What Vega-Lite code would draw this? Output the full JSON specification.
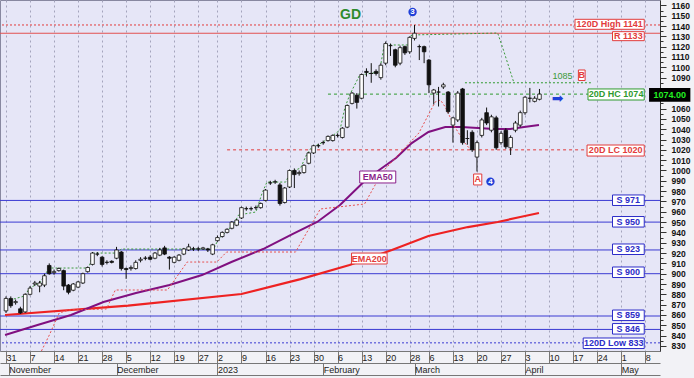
{
"$schema": "https://vega.github.io/schema/vega-lite/v6.json",
"width": 660, "height": 351,
"autosize": {"type": "none"},
"padding": {"left": 0, "top": 0, "right": 34, "bottom": 27},
"background": "#f2f2f6",
"config": {"view": {"fill": "#e6e6f7", "stroke": "#8888a0", "strokeWidth": 1}, "font": "Liberation Sans"},
"datasets": {
"candles": [
{"s":0,"o":864,"h":878,"l":862,"c":876},{"s":1,"o":876,"h":878,"l":867,"c":869},{"s":2,"o":872,"h":875,"l":870,"c":873},{"s":3,"o":866,"h":868,"l":861,"c":862},{"s":4,"o":863,"h":881,"l":862,"c":880},
{"s":5,"o":880,"h":888,"l":879,"c":886},{"s":6,"o":890,"h":893,"l":888,"c":891},{"s":7,"o":888,"h":893,"l":882,"c":891},{"s":8,"o":889,"h":900,"l":887,"c":898},{"s":9,"o":908,"h":910,"l":899,"c":900},
{"s":10,"o":901,"h":904,"l":899,"c":902},{"s":11,"o":903,"h":906,"l":902,"c":905},{"s":12,"o":903,"h":904,"l":884,"c":888},{"s":13,"o":889,"h":890,"l":880,"c":882},{"s":14,"o":884,"h":891,"l":883,"c":890},
{"s":15,"o":887,"h":893,"l":886,"c":892},{"s":16,"o":891,"h":901,"l":890,"c":900},{"s":17,"o":902,"h":907,"l":901,"c":906},{"s":18,"o":909,"h":921,"l":908,"c":920},{"s":19,"o":919,"h":921,"l":917,"c":919},
{"s":20,"o":916,"h":917,"l":907,"c":909},{"s":21,"o":911,"h":913,"l":909,"c":911},{"s":22,"o":912,"h":913,"l":910,"c":911},{"s":23,"o":915,"h":926,"l":914,"c":923},{"s":24,"o":921,"h":922,"l":903,"c":905},
{"s":25,"o":905,"h":906,"l":895,"c":904},{"s":26,"o":905,"h":908,"l":903,"c":906},{"s":27,"o":905,"h":913,"l":904,"c":911},{"s":28,"o":913,"h":916,"l":911,"c":914},{"s":29,"o":915,"h":917,"l":913,"c":915},
{"s":30,"o":916,"h":918,"l":913,"c":914},{"s":31,"o":915,"h":921,"l":914,"c":920},{"s":32,"o":918,"h":925,"l":917,"c":923},{"s":33,"o":925,"h":927,"l":918,"c":919},{"s":34,"o":916,"h":917,"l":904,"c":915},
{"s":35,"o":911,"h":917,"l":910,"c":916},{"s":36,"o":913,"h":919,"l":912,"c":918},{"s":37,"o":919,"h":925,"l":918,"c":924},{"s":38,"o":923,"h":929,"l":922,"c":926},{"s":39,"o":924,"h":926,"l":922,"c":924},
{"s":40,"o":924,"h":926,"l":922,"c":924},{"s":41,"o":924,"h":926,"l":923,"c":925},{"s":42,"o":924,"h":925,"l":921,"c":923},{"s":43,"o":919,"h":929,"l":918,"c":928},{"s":44,"o":932,"h":937,"l":931,"c":935},
{"s":45,"o":936,"h":941,"l":935,"c":940},{"s":46,"o":940,"h":944,"l":939,"c":943},{"s":47,"o":944,"h":951,"l":943,"c":950},{"s":48,"o":947,"h":953,"l":946,"c":952},{"s":49,"o":954,"h":965,"l":953,"c":964},
{"s":50,"o":963,"h":965,"l":961,"c":963},{"s":51,"o":963,"h":965,"l":961,"c":963},{"s":52,"o":964,"h":966,"l":962,"c":964},{"s":53,"o":964,"h":969,"l":963,"c":968},{"s":54,"o":971,"h":982,"l":970,"c":981},
{"s":55,"o":988,"h":990,"l":986,"c":988},{"s":56,"o":989,"h":991,"l":987,"c":989},{"s":57,"o":986,"h":988,"l":966,"c":968},{"s":58,"o":969,"h":984,"l":968,"c":983},{"s":59,"o":984,"h":1001,"l":983,"c":1000},
{"s":60,"o":1000,"h":1002,"l":983,"c":996},{"s":61,"o":997,"h":1000,"l":995,"c":998},{"s":62,"o":998,"h":1006,"l":997,"c":1005},{"s":63,"o":1007,"h":1018,"l":1006,"c":1017},{"s":64,"o":1017,"h":1025,"l":1016,"c":1024},
{"s":65,"o":1024,"h":1026,"l":1022,"c":1024},{"s":66,"o":1027,"h":1029,"l":1025,"c":1027},{"s":67,"o":1029,"h":1034,"l":1028,"c":1033},{"s":68,"o":1029,"h":1035,"l":1028,"c":1034},{"s":69,"o":1034,"h":1036,"l":1032,"c":1034},
{"s":70,"o":1032,"h":1042,"l":1031,"c":1041},{"s":71,"o":1042,"h":1064,"l":1041,"c":1063},{"s":72,"o":1065,"h":1076,"l":1064,"c":1075},{"s":73,"o":1073,"h":1075,"l":1060,"c":1066},{"s":74,"o":1070,"h":1094,"l":1069,"c":1093},
{"s":75,"o":1096,"h":1099,"l":1091,"c":1095},{"s":76,"o":1094,"h":1104,"l":1085,"c":1094},{"s":77,"o":1096,"h":1098,"l":1092,"c":1094},{"s":78,"o":1090,"h":1104,"l":1088,"c":1102},{"s":79,"o":1104,"h":1125,"l":1102,"c":1123},
{"s":80,"o":1121,"h":1123,"l":1111,"c":1121},{"s":81,"o":1117,"h":1118,"l":1100,"c":1102},{"s":82,"o":1104,"h":1121,"l":1102,"c":1119},{"s":83,"o":1120,"h":1121,"l":1112,"c":1114},{"s":84,"o":1115,"h":1130,"l":1113,"c":1129},
{"s":85,"o":1128,"h":1141,"l":1126,"c":1133},{"s":86,"o":1120,"h":1122,"l":1107,"c":1120},{"s":87,"o":1120,"h":1121,"l":1104,"c":1115},{"s":88,"o":1107,"h":1108,"l":1075,"c":1083},{"s":89,"o":1075,"h":1079,"l":1064,"c":1078},
{"s":90,"o":1076,"h":1081,"l":1062,"c":1076},{"s":91,"o":1081,"h":1085,"l":1079,"c":1083},{"s":92,"o":1076,"h":1077,"l":1055,"c":1057},{"s":93,"o":1044,"h":1052,"l":1027,"c":1051},{"s":94,"o":1049,"h":1077,"l":1047,"c":1075},
{"s":95,"o":1079,"h":1080,"l":1025,"c":1027},{"s":96,"o":1031,"h":1039,"l":1025,"c":1031},{"s":97,"o":1037,"h":1039,"l":1018,"c":1020},{"s":98,"o":1013,"h":1029,"l":999,"c":1027},{"s":99,"o":1034,"h":1051,"l":1032,"c":1049},
{"s":100,"o":1056,"h":1061,"l":1044,"c":1046},{"s":101,"o":1039,"h":1054,"l":1037,"c":1052},{"s":102,"o":1051,"h":1053,"l":1020,"c":1022},{"s":103,"o":1027,"h":1038,"l":1025,"c":1036},{"s":104,"o":1039,"h":1041,"l":1021,"c":1023},
{"s":105,"o":1022,"h":1034,"l":1015,"c":1032},{"s":106,"o":1039,"h":1048,"l":1037,"c":1046},{"s":107,"o":1044,"h":1058,"l":1042,"c":1056},{"s":108,"o":1056,"h":1072,"l":1054,"c":1071},{"s":109,"o":1070,"h":1080,"l":1066,"c":1070},
{"s":110,"o":1067,"h":1072,"l":1066,"c":1070},{"s":111,"o":1069,"h":1079,"l":1068,"c":1074}
],
"ema50": [
{"s":-0.2,"v":840.6},{"s":6.56,"v":850.3},{"s":13.52,"v":860.0},{"s":20.29,"v":872.6},{"s":27.05,"v":881.3},{"s":34.02,"v":889.0},{"s":40.78,"v":898.7},{"s":46.9,"v":911.3},{"s":53.5,"v":923.9},{"s":59.6,"v":938.4},{"s":64.75,"v":950.1},{"s":69.5,"v":966.6},{"s":74.2,"v":987.9},{"s":77.66,"v":1000.5},{"s":81.15,"v":1012.1},{"s":84.43,"v":1026.6},{"s":87.9,"v":1037.3},{"s":91.4,"v":1042.1},{"s":94.7,"v":1042.1},{"s":98.2,"v":1041.2},{"s":101.6,"v":1040.2},{"s":104.9,"v":1040.2},{"s":107.8,"v":1042.1},{"s":110.9,"v":1044.1}
],
"ema200": [
{"s":-0.2,"v":860.0},{"s":25.4,"v":869.0},{"s":49.0,"v":880.3},{"s":61.3,"v":894.8},{"s":71.5,"v":908.4},{"s":80.3,"v":923.0},{"s":87.9,"v":936.5},{"s":96.1,"v":945.2},{"s":102.3,"v":950.1},{"s":107.0,"v":954.9},{"s":110.9,"v":958.8}
],
"lowtrail": [
{"s":7.38,"v":825.1},{"s":9.02,"v":840.6},{"s":11.07,"v":861.9},{"s":13.1,"v":864.8},{"s":20.9,"v":865.8},{"s":22.75,"v":884.2},{"s":33.6,"v":884.2},{"s":37.7,"v":911.3},{"s":43.85,"v":911.3},{"s":45.9,"v":921.0},{"s":60.25,"v":921.0},{"s":65.4,"v":962.7},{"s":74.6,"v":967.5},{"s":78.3,"v":998.5},{"s":85.9,"v":1036.3},{"s":89.3,"v":1066.4},{"s":90.4,"v":1068.3},{"s":91.4,"v":1061.5},{"s":93.4,"v":1042.1},{"s":95.5,"v":1026.6},{"s":96.7,"v":1019.9}
],
"hightrail": [
{"s":0.82,"v":874.5},{"s":3.9,"v":878.4},{"s":4.9,"v":886.1},{"s":7.0,"v":891.0},{"s":9.0,"v":905.5},{"s":17.2,"v":905.5},{"s":18.2,"v":920.0},{"s":22.95,"v":920.0},{"s":24.0,"v":923.9},{"s":43.2,"v":923.9},{"s":44.1,"v":932.6},{"s":45.1,"v":937.5},{"s":46.1,"v":942.3},{"s":47.3,"v":947.2},{"s":48.4,"v":956.9},{"s":52.0,"v":959.8},{"s":53.3,"v":978.2},{"s":54.3,"v":988.8},{"s":58.2,"v":988.8},{"s":59.2,"v":998.5},{"s":61.3,"v":1002.4},{"s":62.5,"v":1015.0},{"s":63.5,"v":1021.8},{"s":65.6,"v":1026.6},{"s":67.6,"v":1032.4},{"s":69.5,"v":1039.2},{"s":70.5,"v":1060.6},{"s":71.5,"v":1073.1},{"s":73.6,"v":1092.5},{"s":77.7,"v":1095.4},{"s":78.7,"v":1121.6},{"s":83.8,"v":1121.6},{"s":84.4,"v":1131.3},{"s":102.3,"v":1133.2},{"s":103.5,"v":1116.8},{"s":104.7,"v":1099.3},{"s":105.7,"v":1084.8}
],
"boxes": [
{"t":"120D High 1141","g":"r","x1":118.4,"x2":132.8,"y1":1136.8,"y2":1146.5,"tx":125.6,"ty":1141.6},
{"t":"R 1133","g":"r","x1":126.2,"x2":132.8,"y1":1125.8,"y2":1134.5,"tx":129.5,"ty":1130.2},
{"t":"20D HC 1074","g":"g","x1":121.1,"x2":132.8,"y1":1068.3,"y2":1079.0,"tx":126.95,"ty":1073.7},
{"t":"20D LC 1020","g":"r","x1":120.9,"x2":132.8,"y1":1014.0,"y2":1024.7,"tx":126.85,"ty":1019.4},
{"t":"S 971","g":"b","x1":126.2,"x2":132.8,"y1":966.1,"y2":976.3,"tx":129.5,"ty":971.2},
{"t":"S 950","g":"b","x1":126.2,"x2":132.8,"y1":945.2,"y2":955.4,"tx":129.5,"ty":950.3},
{"t":"S 923","g":"b","x1":126.2,"x2":132.8,"y1":918.6,"y2":928.8,"tx":129.5,"ty":923.7},
{"t":"S 900","g":"b","x1":126.2,"x2":132.8,"y1":896.3,"y2":906.5,"tx":129.5,"ty":901.4},
{"t":"S 859","g":"b","x1":126.2,"x2":132.8,"y1":854.6,"y2":864.8,"tx":129.5,"ty":859.7},
{"t":"S 846","g":"b","x1":126.2,"x2":132.8,"y1":841.5,"y2":851.7,"tx":129.5,"ty":846.6},
{"t":"120D Low 833","g":"b","x1":120.1,"x2":132.8,"y1":827.5,"y2":837.7,"tx":126.45,"ty":832.6},
{"t":"EMA50","g":"p","x1":73.6,"x2":81.1,"y1":987.9,"y2":999.5,"tx":77.35,"ty":993.7},
{"t":"EMA200","g":"r","x1":71.9,"x2":79.3,"y1":909.4,"y2":920.0,"tx":75.6,"ty":914.7},
{"t":"A","g":"r","x1":97.3,"x2":99.0,"y1":986.0,"y2":996.6,"tx":98.15,"ty":991.3},
{"t":"B","g":"r","x1":119.1,"x2":120.5,"y1":1087.2,"y2":1097.4,"tx":119.8,"ty":1092.3}
]
},
"resolve": {"axis": {"x": "independent", "y": "independent"}},
"layer": [
{"data": {"values": [{"v":971},{"v":950},{"v":923},{"v":900},{"v":859},{"v":846}]},
 "mark": {"type": "rule", "color": "#3a3ad2", "strokeWidth": 1},
 "encoding": {"y": {"field": "v", "type": "quantitative", "scale": {"domain": [825.1, 1165.2], "nice": false, "zero": false}, "axis": null}}},
{"data": {"values": [{"v":833}]},
 "mark": {"type": "rule", "color": "#3a3ad2", "strokeWidth": 1, "strokeDash": [2, 2]},
 "encoding": {"y": {"field": "v", "type": "quantitative", "scale": {"domain": [825.1, 1165.2], "nice": false, "zero": false}, "axis": null}}},
{"data": {"values": [{"v":1141}]},
 "mark": {"type": "rule", "color": "#e23b3b", "strokeWidth": 1, "strokeDash": [2, 2]},
 "encoding": {"y": {"field": "v", "type": "quantitative", "scale": {"domain": [825.1, 1165.2], "nice": false, "zero": false}, "axis": null}}},
{"data": {"values": [{"v":1133}]},
 "mark": {"type": "rule", "color": "#e25050", "strokeWidth": 1.2},
 "encoding": {"y": {"field": "v", "type": "quantitative", "scale": {"domain": [825.1, 1165.2], "nice": false, "zero": false}, "axis": null}}},
{"data": {"values": [{"a":46,"b":120.9,"v":1020}]},
 "mark": {"type": "rule", "color": "#e23b3b", "strokeWidth": 1, "strokeDash": [3, 3]},
 "encoding": {"x": {"field": "a", "type": "quantitative", "scale": {"domain": [-0.205, 135.04], "nice": false, "zero": false}, "axis": null}, "x2": {"field": "b"},
  "y": {"field": "v", "type": "quantitative", "scale": {"domain": [825.1, 1165.2], "nice": false, "zero": false}, "axis": null}}},
{"data": {"values": [{"a":67,"b":121.1,"v":1074}]},
 "mark": {"type": "rule", "color": "#2f9a2f", "strokeWidth": 1, "strokeDash": [3, 3]},
 "encoding": {"x": {"field": "a", "type": "quantitative", "scale": {"domain": [-0.205, 135.04], "nice": false, "zero": false}, "axis": null}, "x2": {"field": "b"},
  "y": {"field": "v", "type": "quantitative", "scale": {"domain": [825.1, 1165.2], "nice": false, "zero": false}, "axis": null}}},
{"data": {"values": [{"a":95.5,"b":121.7,"v":1085}]},
 "mark": {"type": "rule", "color": "#2f9a2f", "strokeWidth": 1, "strokeDash": [2, 2]},
 "encoding": {"x": {"field": "a", "type": "quantitative", "scale": {"domain": [-0.205, 135.04], "nice": false, "zero": false}, "axis": null}, "x2": {"field": "b"},
  "y": {"field": "v", "type": "quantitative", "scale": {"domain": [825.1, 1165.2], "nice": false, "zero": false}, "axis": null}}},
{"data": {"name": "ema200"},
 "mark": {"type": "line", "color": "#ee2222", "strokeWidth": 2.2},
 "encoding": {"x": {"field": "s", "type": "quantitative", "scale": {"domain": [-0.205, 135.04], "nice": false, "zero": false}, "axis": null},
  "y": {"field": "v", "type": "quantitative", "scale": {"domain": [825.1, 1165.2], "nice": false, "zero": false}, "axis": null}}},
{"data": {"name": "ema50"},
 "mark": {"type": "line", "color": "#801080", "strokeWidth": 2},
 "encoding": {"x": {"field": "s", "type": "quantitative", "scale": {"domain": [-0.205, 135.04], "nice": false, "zero": false}, "axis": null},
  "y": {"field": "v", "type": "quantitative", "scale": {"domain": [825.1, 1165.2], "nice": false, "zero": false}, "axis": null}}},
{"data": {"name": "lowtrail"},
 "mark": {"type": "line", "color": "#e85050", "strokeWidth": 1, "strokeDash": [2, 2]},
 "encoding": {"x": {"field": "s", "type": "quantitative", "scale": {"domain": [-0.205, 135.04], "nice": false, "zero": false},
   "axis": {"orient": "bottom", "offset": 24, "ticks": false, "labels": false, "grid": false, "domain": true, "domainColor": "#777", "title": null}},
  "y": {"field": "v", "type": "quantitative", "scale": {"domain": [825.1, 1165.2], "nice": false, "zero": false}, "axis": null}}},
{"data": {"name": "hightrail"},
 "mark": {"type": "line", "color": "#3a9a3a", "strokeWidth": 1, "strokeDash": [2, 2]},
 "encoding": {"x": {"field": "s", "type": "quantitative", "scale": {"domain": [-0.205, 135.04], "nice": false, "zero": false}, "axis": null},
  "y": {"field": "v", "type": "quantitative", "scale": {"domain": [825.1, 1165.2], "nice": false, "zero": false}, "axis": null}}},
{"data": {"name": "candles"},
 "mark": {"type": "rule", "color": "#111111", "strokeWidth": 1},
 "encoding": {
  "x": {"field": "s", "type": "quantitative", "scale": {"domain": [-0.205, 135.04], "nice": false, "zero": false},
   "axis": {"orient": "bottom", "values": [0,5,10,15,20,25,30,35,40,44,49,54,59,64,69,74,79,84,88,93,98,103,108,113,118,123,128,133],
    "labelExpr": "['31','7','14','21','28','5','12','19','27','2','9','16','23','30','6','13','20','28','6','13','20','27','3','10','17','24','1','8'][indexof([0,5,10,15,20,25,30,35,40,44,49,54,59,64,69,74,79,84,88,93,98,103,108,113,118,123,128,133], datum.value)]",
    "tickSize": 12, "tickColor": "#777", "domainColor": "#777", "labelAlign": "left", "labelBaseline": "top", "labelPadding": -10, "labelDx": 2,
    "labelFontSize": 9, "labelColor": "#222", "labelFlush": false, "labelOverlap": false, "labelBound": false,
    "grid": true, "gridDash": [2, 3], "gridColor": "#a4a4bc", "title": null}},
  "y": {"field": "l", "type": "quantitative", "scale": {"domain": [825.1, 1165.2], "nice": false, "zero": false},
   "axis": {"orient": "right", "values": [830,840,850,860,870,880,890,900,910,920,930,940,950,960,970,980,990,1000,1010,1020,1030,1040,1050,1060,1090,1100,1110,1120,1130,1140,1150,1160],
    "format": "d", "tickSize": 6, "tickColor": "#333", "domainColor": "#333", "labelFontSize": 8.5, "labelFontWeight": "bold", "labelColor": "#111",
    "labelPadding": 5, "grid": false, "title": null, "labelOverlap": false, "labelBound": false, "labelFlush": false}},
  "y2": {"field": "h"}}},
{"data": {"name": "candles"},
 "mark": {"type": "bar", "size": 3.6, "stroke": "#111111", "strokeWidth": 0.8},
 "encoding": {
  "x": {"field": "s", "type": "quantitative", "scale": {"domain": [-0.205, 135.04], "nice": false, "zero": false},
   "axis": {"orient": "bottom", "offset": 12, "values": [0.6, 23, 44, 66, 85, 108, 128],
    "labelExpr": "['November','December','2023','February','March','April','May'][indexof([0.6,23,44,66,85,108,128], datum.value)]",
    "tickSize": 12, "tickColor": "#777", "domainColor": "#777", "labelAlign": "left", "labelBaseline": "top", "labelPadding": -10, "labelDx": 2,
    "labelFontSize": 9, "labelColor": "#222", "labelFlush": false, "labelOverlap": false, "labelBound": false, "grid": false, "title": null}},
  "y": {"field": "o", "type": "quantitative", "scale": {"domain": [825.1, 1165.2], "nice": false, "zero": false},
   "axis": {"orient": "right", "values": [835,845,855,865,875,885,895,905,915,925,935,945,955,965,975,985,995,1005,1015,1025,1035,1045,1055,1065,1070,1075,1080,1085,1095,1105,1115,1125,1135,1145,1155],
    "tickSize": 3, "tickColor": "#333", "labels": false, "domain": false, "grid": false, "title": null}},
  "y2": {"field": "c"},
  "fill": {"condition": {"test": "datum.c >= datum.o", "value": "#ffffff"}, "value": "#111111"}}},
{"data": {"name": "boxes"},
 "mark": {"type": "rect", "fill": "#ffffff", "strokeWidth": 1},
 "encoding": {"x": {"field": "x1", "type": "quantitative", "scale": {"domain": [-0.205, 135.04], "nice": false, "zero": false}, "axis": null}, "x2": {"field": "x2"},
  "y": {"field": "y1", "type": "quantitative", "scale": {"domain": [825.1, 1165.2], "nice": false, "zero": false}, "axis": null}, "y2": {"field": "y2"},
  "stroke": {"field": "g", "type": "nominal", "scale": {"domain": ["r","g","b","p"], "range": ["#e23b3b","#2f9a2f","#2c2cc8","#8a1f8a"]}, "legend": null}}},
{"data": {"name": "boxes"},
 "mark": {"type": "text", "fontSize": 9, "fontWeight": "bold", "align": "center", "baseline": "middle", "font": "Liberation Sans"},
 "encoding": {"x": {"field": "tx", "type": "quantitative", "scale": {"domain": [-0.205, 135.04], "nice": false, "zero": false}, "axis": null},
  "y": {"field": "ty", "type": "quantitative", "scale": {"domain": [825.1, 1165.2], "nice": false, "zero": false}, "axis": null},
  "text": {"field": "t"},
  "color": {"field": "g", "type": "nominal", "scale": {"domain": ["r","g","b","p"], "range": ["#e23b3b","#2f9a2f","#2c2cc8","#8a1f8a"]}, "legend": null}}},
{"data": {"values": [{"t":"GD","s":71.7,"v":1150.2}]},
 "mark": {"type": "text", "fontSize": 14, "fontWeight": "bold", "color": "#2e8b2e", "align": "center", "baseline": "middle", "font": "Liberation Sans"},
 "encoding": {"x": {"field": "s", "type": "quantitative", "scale": {"domain": [-0.205, 135.04], "nice": false, "zero": false}, "axis": null},
  "y": {"field": "v", "type": "quantitative", "scale": {"domain": [825.1, 1165.2], "nice": false, "zero": false}, "axis": null}, "text": {"field": "t"}}},
{"data": {"values": [{"t":"1085","s":115.8,"v":1091.6}]},
 "mark": {"type": "text", "fontSize": 9, "color": "#3a9a3a", "align": "center", "baseline": "middle", "font": "Liberation Sans"},
 "encoding": {"x": {"field": "s", "type": "quantitative", "scale": {"domain": [-0.205, 135.04], "nice": false, "zero": false}, "axis": null},
  "y": {"field": "v", "type": "quantitative", "scale": {"domain": [825.1, 1165.2], "nice": false, "zero": false}, "axis": null}, "text": {"field": "t"}}},
{"data": {"values": [{"t":"➡","s":114.8,"v":1069.3}]},
 "mark": {"type": "text", "fontSize": 14, "color": "#1f3fd8", "align": "center", "baseline": "middle", "font": "DejaVu Sans"},
 "encoding": {"x": {"field": "s", "type": "quantitative", "scale": {"domain": [-0.205, 135.04], "nice": false, "zero": false}, "axis": null},
  "y": {"field": "v", "type": "quantitative", "scale": {"domain": [825.1, 1165.2], "nice": false, "zero": false}, "axis": null}, "text": {"field": "t"}}},
{"data": {"values": [{"t":"3","s":84.6,"v":1153.6},{"t":"4","s":100.8,"v":989.2}]},
 "mark": {"type": "point", "filled": true, "color": "#1f3fd8", "size": 70, "opacity": 1},
 "encoding": {"x": {"field": "s", "type": "quantitative", "scale": {"domain": [-0.205, 135.04], "nice": false, "zero": false}, "axis": null},
  "y": {"field": "v", "type": "quantitative", "scale": {"domain": [825.1, 1165.2], "nice": false, "zero": false}, "axis": null}}},
{"data": {"values": [{"t":"3","s":84.6,"v":1153.6},{"t":"4","s":100.8,"v":989.2}]},
 "mark": {"type": "text", "fontSize": 8, "fontWeight": "bold", "color": "#ffffff", "align": "center", "baseline": "middle", "font": "Liberation Sans"},
 "encoding": {"x": {"field": "s", "type": "quantitative", "scale": {"domain": [-0.205, 135.04], "nice": false, "zero": false}, "axis": null},
  "y": {"field": "v", "type": "quantitative", "scale": {"domain": [825.1, 1165.2], "nice": false, "zero": false}, "axis": null}, "text": {"field": "t"}}},
{"data": {"values": [{"a":133.8,"b":142.4,"lo":1066.7,"hi":1080.0}]},
 "mark": {"type": "rect", "fill": "#000000", "clip": false},
 "encoding": {"x": {"field": "a", "type": "quantitative", "scale": {"domain": [-0.205, 135.04], "nice": false, "zero": false}, "axis": null}, "x2": {"field": "b"},
  "y": {"field": "lo", "type": "quantitative", "scale": {"domain": [825.1, 1165.2], "nice": false, "zero": false}, "axis": null}, "y2": {"field": "hi"}}},
{"data": {"values": [{"t":"1074.00","s":138.1,"v":1073.3}]},
 "mark": {"type": "text", "fontSize": 9, "fontWeight": "bold", "color": "#22ee22", "align": "center", "baseline": "middle", "font": "Liberation Sans", "clip": false},
 "encoding": {"x": {"field": "s", "type": "quantitative", "scale": {"domain": [-0.205, 135.04], "nice": false, "zero": false}, "axis": null},
  "y": {"field": "v", "type": "quantitative", "scale": {"domain": [825.1, 1165.2], "nice": false, "zero": false}, "axis": null}, "text": {"field": "t"}}}
]
}
